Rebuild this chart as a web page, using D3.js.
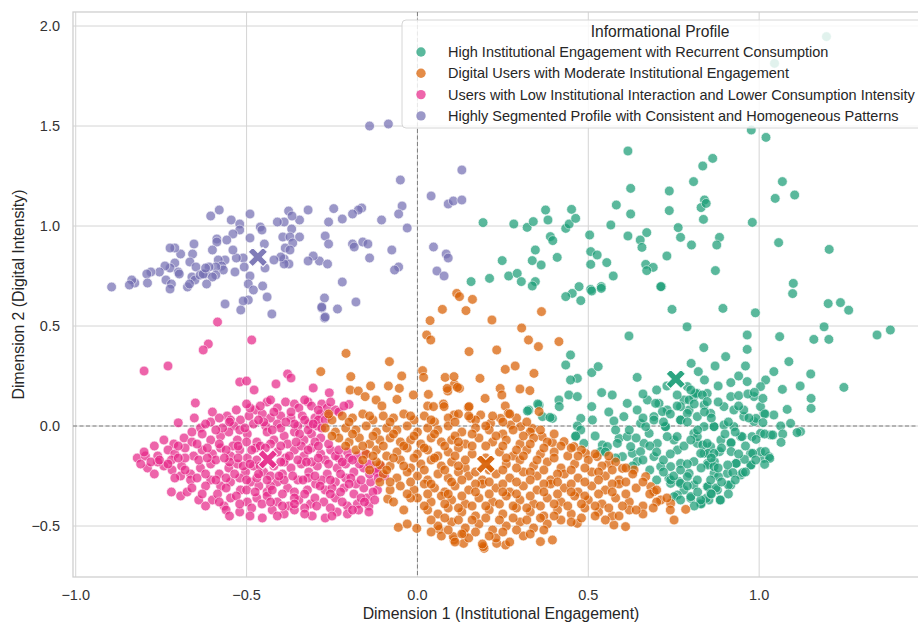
<!DOCTYPE html>
<html>
<head>
<meta charset="utf-8">
<script src="https://cdn.jsdelivr.net/npm/d3@7"></script>
<style>
  body { margin: 0; background: #fff; }
  svg { display: block; font-family: "Liberation Sans", Arial, sans-serif; }
</style>
</head>
<body>
<div id="chart"></div>
<script>
// profile names, in legend order
const profiles = [
  "High Institutional Engagement with Recurrent Consumption",
  "Digital Users with Moderate Institutional Engagement",
  "Users with Low Institutional Interaction and Lower Consumption Intensity",
  "Highly Segmented Profile with Consistent and Homogeneous Patterns"
];
const colors = ["#1b9e77", "#d95f02", "#e7298a", "#7570b3"];

const xTicks = [-1.0, -0.5, 0.0, 0.5, 1.0];
const yTicks = [-0.5, 0.0, 0.5, 1.0, 1.5, 2.0];

// cluster centroids [dim1, dim2]
const centroids = [[0.756, 0.235], [0.20, -0.19], [-0.438, -0.167], [-0.467, 0.845]];

// points, [dim1, dim2]
const greenPts = [
  [1.197,1.947],[1.045,1.813],[0.977,1.48],[1.02,1.443],[0.616,1.375],[0.864,1.338],[0.835,1.30],[0.808,1.222],
  [0.737,1.175],[0.624,1.188],[1.068,1.222],[1.047,1.138],[1.104,1.155],[0.582,1.105],[0.624,1.06],[0.737,1.077],
  [0.84,1.13],[0.83,1.092],[0.845,1.113],[0.837,1.033],[0.98,1.018],[0.566,1.005],[0.504,0.955],[0.616,0.95],
  [0.652,0.93],[0.671,0.967],[0.657,0.893],[0.763,0.992],[0.77,0.943],[0.802,0.905],[0.884,0.943],[0.876,0.905],
  [1.057,0.917],[1.205,0.883],[0.507,0.872],[0.526,0.855],[0.507,0.808],[0.554,0.817],[0.573,0.75],[0.73,0.85],
  [0.668,0.808],[0.69,0.793],[0.671,0.777],[0.872,0.777],[1.10,0.713],[0.714,0.697],
  [0.192,1.017],[0.282,1.01],[0.321,0.993],[0.339,1.022],[0.382,1.03],[0.375,1.08],[0.434,0.988],[0.444,1.01],
  [0.451,1.083],[0.463,1.038],[0.389,0.947],[0.396,0.927],[0.345,0.88],[0.409,0.843],[0.248,0.827],[0.336,0.827],
  [0.362,0.805],[0.157,0.722],[0.211,0.738],[0.267,0.75],[0.292,0.763],[0.304,0.722],[0.345,0.722],[0.336,0.70],
  [0.473,0.697],[0.507,0.683],[0.538,0.697],
  [1.098,0.662],[1.202,0.612],[1.238,0.617],[1.262,0.579],[1.384,0.48],[1.345,0.455],[1.19,0.496],[0.989,0.566],
  [0.894,0.588],[0.745,0.583],[0.789,0.496],[0.453,0.663],[0.434,0.647],[0.478,0.627],[0.51,0.675],[0.538,0.688],[0.712,0.697],
  [0.619,0.45],[0.965,0.455],[0.965,0.383],[1.06,0.447],[1.16,0.433],[1.204,0.433],[0.838,0.392],[0.902,0.347],
  [0.871,0.30],[0.801,0.313],[0.822,0.272],[0.448,0.355],[0.434,0.305],[0.468,0.238],[0.448,0.23],[0.51,0.267],
  [0.529,0.297],[0.643,0.243],[0.96,0.30],[0.917,0.217],[0.965,0.222],[1.019,0.23],[1.043,0.272],[1.087,0.322],
  [1.151,0.26],[1.12,0.20],[1.068,0.183],[1.248,0.193],[1.152,0.138],[1.152,0.088],[1.082,0.083],[1.014,0.063],
  [1.043,0.055],[1.092,0.013],[1.063,0.0],[1.121,-0.028],[1.111,-0.033],
  [0.326,0.08],[0.356,0.105],[0.395,0.038],[0.414,0.13],[0.443,0.155],[0.468,0.147],[0.478,0.038],[0.468,0.0],
  [0.51,0.097],[0.539,0.167],[0.57,0.155],[0.575,0.025],[0.604,0.047],[0.614,0.113],[0.463,-0.053],[0.487,-0.087],
  [0.541,-0.095],[0.59,-0.062],[0.536,-0.128],[0.352,0.11],[0.322,0.075],[0.366,0.047],[0.388,0.043],[0.415,0.097],
  [0.478,-0.02],[0.463,-0.05],[0.512,0.03],
  [0.629,-0.137],[0.643,-0.178],[0.663,-0.087],[0.678,-0.037],[0.653,0.013],[0.692,0.047],[0.707,0.113],[0.731,0.08],
  [0.726,-0.003],[0.751,-0.07],[0.761,-0.12],[0.77,-0.187],[0.741,-0.203],[0.736,-0.262],[0.765,-0.278],[0.78,-0.32],
  [0.80,-0.362],[0.829,-0.387],[0.853,-0.37],[0.887,-0.37],[0.878,-0.32],[0.917,-0.295],[0.946,-0.245],[0.975,-0.195],
  [1.014,-0.162],[1.029,-0.153],[1.004,-0.128],[0.975,-0.137],[0.932,-0.187],[0.907,-0.237],[0.868,-0.237],[0.849,-0.187],
  [0.839,-0.137],[0.819,-0.087],[0.809,-0.037],[0.839,-0.003],[0.868,-0.003],[0.897,0.005],[0.926,-0.003],[0.946,-0.053],
  [0.917,-0.087],[0.888,-0.07],[0.858,-0.103],[0.795,0.08],[0.819,0.047],[0.839,0.105],[0.848,0.163],[0.809,0.147],
  [0.78,0.13],[0.76,0.155],[0.79,0.197],[0.819,0.163],[0.77,0.03],[0.702,-0.087],[0.692,-0.153],[0.712,-0.203],
  [0.653,-0.128],[0.624,-0.103],[0.614,-0.053],[0.585,-0.087],[0.556,-0.103],[0.60,-0.153],[0.795,-0.237],[0.809,-0.295],
  [0.848,-0.303],[0.741,-0.287],[0.761,-0.345],[0.979,-0.053],[1.004,-0.037],[1.034,-0.045],[0.985,0.022],[0.955,0.047],
  [0.926,0.08],[0.897,0.097],[0.917,0.147],[0.985,0.147],[1.004,0.097],[1.004,0.197],
  [0.94,0.152],[0.967,0.16],[0.986,0.168],[1.011,0.138],[0.955,0.08],[0.991,0.038],[1.017,0.06],[1.011,0.017],
  [0.991,-0.067],[1.016,-0.04],[1.04,-0.045],[1.069,-0.04],[1.064,-0.082],[1.018,-0.128],[1.031,-0.162],[1.016,-0.192],
  [0.981,-0.137],[0.976,-0.195],[0.95,-0.053],[0.918,-0.083],[0.918,-0.128],[0.884,-0.128],[0.869,-0.178],[0.85,-0.195],
  [0.85,-0.137],[0.835,-0.095],[0.957,-0.167],[0.933,-0.187],[0.908,-0.195],[0.952,-0.233],[0.923,-0.233],[0.881,-0.253],
  [0.85,-0.303],[0.874,-0.31],[0.91,-0.295],[0.886,-0.37],[0.845,-0.362],[0.83,-0.39],
  [0.643,0.08],[0.673,0.13],[0.697,0.113],[0.717,0.072],[0.692,0.03],[0.726,-0.003],[0.668,-0.003],[0.731,-0.053],
  [0.76,-0.053],[0.77,0.03],[0.79,0.063],[0.77,0.097],[0.795,0.13],[0.814,0.163],[0.80,0.18],[0.834,0.155],
  [0.848,0.122],[0.858,0.063],[0.868,-0.003],[0.819,-0.053],[0.848,-0.087],[0.868,-0.137],[0.829,-0.137],[0.809,-0.178],
  [0.741,-0.27],[0.77,-0.287],[0.79,-0.253],[0.819,-0.27],[0.751,-0.353],[0.80,-0.353],[0.829,-0.37],[0.858,-0.337],
  [0.858,-0.27],[0.868,-0.203],
  [0.62,-0.02],[0.64,-0.06],[0.66,0.04],[0.68,-0.10],[0.70,-0.13],[0.72,-0.17],[0.74,-0.14],[0.72,-0.23],
  [0.75,-0.25],[0.77,-0.22],[0.79,-0.19],[0.78,-0.10],[0.80,-0.07],[0.82,-0.02],[0.83,-0.21],[0.86,-0.16],
  [0.88,-0.21],[0.89,-0.11],[0.90,-0.04],[0.93,-0.03],[0.94,-0.14],[0.96,-0.10],[0.89,-0.28],[0.86,-0.34],
  [0.82,-0.33],[0.79,-0.30],[0.77,-0.37],[0.81,-0.40],[0.91,-0.34],[0.93,-0.27],[0.96,-0.23],[0.99,-0.17],
  [0.72,0.02],[0.74,0.06],[0.76,0.10],[0.79,0.02],[0.81,0.11],[0.84,0.07],[0.86,0.04],[0.88,0.12],
  [0.91,0.02],[0.94,0.10],[0.97,0.04],[0.58,-0.02],[0.56,0.07],[0.52,-0.05],[0.55,-0.13],[0.58,-0.16],
  [0.63,-0.20],[0.66,-0.17],[0.68,-0.22],[0.70,-0.27],[0.66,0.16],[0.70,0.18],[0.73,0.20],[0.84,0.23],
  [0.88,0.20],[0.94,0.25]
];

const orangePts = [
  [0.115,0.663],[0.123,0.647],[0.161,0.633],[0.073,0.583],[0.142,0.577],[0.037,0.527],[0.218,0.53],[0.305,0.49],
  [0.325,0.43],[0.027,0.455],[0.039,0.43],[0.151,0.372],[0.232,0.38],[-0.209,0.363],[-0.082,0.322],[0.257,0.283],
  [0.286,0.30],[-0.283,0.272],[-0.195,0.247],[0.015,0.277],[0.018,0.243],[0.081,0.243],[0.183,0.238],[-0.046,0.25],
  [-0.137,0.20],[-0.085,0.20],[-0.053,0.188],[-0.197,0.18],[-0.173,0.175],[-0.153,0.147],[0.108,0.208],[0.123,0.188],
  [0.30,0.185],[0.242,0.188],[0.247,0.155],[0.032,0.158],[0.089,0.175],[0.198,0.138],[-0.012,0.155],[-0.121,0.13],
  [-0.104,0.10],[-0.06,0.133],[0.03,0.10],[0.047,0.097],[0.076,0.11],[0.149,0.093],[0.257,0.10],[0.266,0.063],
  [0.363,0.572],[0.354,0.397],[0.414,0.422],[0.341,0.263],[0.107,0.247],[0.087,0.188],[0.117,0.193],[0.329,0.177],
  [0.151,0.097],[0.356,0.072],[0.078,0.097],[0.107,0.055],[0.156,0.038],[0.185,0.055],[0.214,0.013],[0.243,0.038],
  [0.273,0.005],[0.302,-0.003],[0.336,-0.012],[0.365,-0.053],[0.395,-0.083],[0.429,-0.078],[0.458,-0.103],[0.492,-0.137],
  [0.526,-0.153],[0.56,-0.187],[0.60,-0.212],[0.634,-0.22],[0.668,-0.253],[0.683,-0.303],[0.692,-0.328],[0.712,-0.37],
  [0.741,-0.387],[0.751,-0.47],[0.785,-0.417],[0.609,-0.503],[0.575,-0.495],[0.468,-0.487],[0.395,-0.57],[0.36,-0.578],
  [0.258,-0.595],[0.195,-0.612],[0.136,-0.537],[0.107,-0.57],[-0.056,-0.507],[-0.002,-0.512],[0.064,-0.517],[0.105,-0.553],
  [0.135,-0.587],[0.193,-0.603],[0.232,-0.587],[-0.087,-0.365],[-0.109,-0.195],
  [-0.25,0.03],[-0.22,0.05],[-0.19,0.04],[-0.16,0.06],[-0.13,0.03],[-0.10,0.05],[-0.07,0.04],[-0.04,0.06],[-0.01,0.03],
  [0.02,0.05],[0.05,0.02],[0.09,0.04],[0.12,0.06],[0.17,0.03],[0.22,0.05],[0.25,0.02],[0.29,0.04],[0.32,0.02],
  [-0.27,-0.01],[-0.24,-0.03],[-0.21,-0.01],[-0.18,-0.02],[-0.15,0.0],[-0.12,-0.03],[-0.09,-0.01],[-0.06,-0.02],
  [-0.03,0.0],[0.0,-0.03],[0.03,-0.01],[0.06,-0.02],[0.09,0.0],[0.13,-0.03],[0.17,-0.01],[0.21,-0.02],[0.25,-0.04],
  [0.28,-0.02],[0.33,-0.03],[0.36,-0.02],
  [-0.23,-0.06],[-0.20,-0.08],[-0.17,-0.06],[-0.14,-0.09],[-0.11,-0.07],[-0.08,-0.06],[-0.05,-0.08],[-0.02,-0.07],
  [0.01,-0.09],[0.04,-0.06],[0.07,-0.08],[0.10,-0.07],[0.14,-0.09],[0.18,-0.06],[0.22,-0.08],[0.26,-0.07],[0.30,-0.09],
  [0.34,-0.06],[0.38,-0.08],[0.42,-0.10],
  [-0.18,-0.12],[-0.15,-0.14],[-0.12,-0.12],[-0.09,-0.15],[-0.06,-0.13],[-0.03,-0.11],[0.0,-0.14],[0.03,-0.12],
  [0.06,-0.15],[0.09,-0.13],[0.12,-0.11],[0.16,-0.14],[0.20,-0.16],[0.24,-0.13],[0.28,-0.15],[0.32,-0.12],[0.36,-0.14],
  [0.40,-0.13],[0.44,-0.15],[0.48,-0.12],
  [-0.12,-0.18],[-0.08,-0.20],[-0.05,-0.17],[-0.02,-0.21],[0.01,-0.19],[0.04,-0.17],[0.07,-0.20],[0.10,-0.18],
  [0.14,-0.21],[0.21,-0.22],[0.26,-0.19],[0.30,-0.17],[0.34,-0.20],[0.38,-0.18],[0.42,-0.21],[0.46,-0.19],[0.50,-0.17],
  [0.54,-0.20],[0.58,-0.18],
  [-0.10,-0.24],[-0.06,-0.26],[-0.03,-0.23],[0.0,-0.25],[0.03,-0.27],[0.06,-0.24],[0.09,-0.26],[0.12,-0.23],
  [0.15,-0.25],[0.19,-0.27],[0.23,-0.24],[0.27,-0.26],[0.31,-0.23],[0.35,-0.25],[0.39,-0.27],[0.43,-0.24],[0.47,-0.26],
  [0.51,-0.23],[0.55,-0.25],[0.59,-0.27],[0.63,-0.24],
  [-0.05,-0.30],[-0.01,-0.32],[0.02,-0.29],[0.05,-0.31],[0.08,-0.33],[0.11,-0.30],[0.15,-0.32],[0.19,-0.29],
  [0.23,-0.31],[0.27,-0.33],[0.31,-0.30],[0.35,-0.32],[0.39,-0.29],[0.43,-0.31],[0.47,-0.33],[0.51,-0.30],[0.55,-0.32],
  [0.59,-0.29],[0.64,-0.31],[0.68,-0.34],
  [0.0,-0.36],[0.04,-0.38],[0.07,-0.35],[0.10,-0.37],[0.14,-0.39],[0.18,-0.36],[0.22,-0.38],[0.26,-0.35],[0.30,-0.37],
  [0.34,-0.39],[0.38,-0.36],[0.42,-0.38],[0.46,-0.35],[0.50,-0.37],[0.54,-0.39],[0.58,-0.36],[0.62,-0.38],[0.66,-0.40],
  [0.03,-0.42],[0.06,-0.44],[0.09,-0.41],[0.13,-0.43],[0.17,-0.45],[0.21,-0.42],[0.25,-0.44],[0.29,-0.41],[0.33,-0.43],
  [0.37,-0.45],[0.41,-0.42],[0.45,-0.44],[0.49,-0.41],[0.53,-0.43],[0.57,-0.45],[0.62,-0.42],[0.66,-0.44],
  [-0.03,-0.49],[0.06,-0.50],[0.10,-0.48],[0.14,-0.51],[0.18,-0.49],[0.22,-0.52],[0.26,-0.50],[0.30,-0.48],[0.34,-0.51],
  [0.38,-0.49],[0.42,-0.47],[0.48,-0.46],[0.55,-0.47],
  [0.07,-0.55],[0.11,-0.58],[0.15,-0.56],[0.19,-0.59],[0.23,-0.56],[0.27,-0.58],[0.31,-0.55],
  [-0.16,-0.17],[-0.14,-0.22],[-0.11,-0.28],[-0.08,-0.32],[-0.07,-0.38],[-0.04,-0.42],[-0.02,-0.36],
  [-0.26,0.06],[-0.20,0.02],[-0.14,0.05],[-0.08,0.02],[-0.02,0.05],[0.04,0.03],[0.11,0.02],[0.15,0.05],[0.20,0.0],[0.27,0.06],
  [-0.25,-0.05],[-0.19,-0.04],[-0.13,-0.05],[-0.07,-0.04],[-0.01,-0.05],[0.05,-0.04],[0.11,-0.05],[0.16,-0.04],
  [0.23,-0.05],[0.31,-0.05],[0.40,-0.04],
  [-0.21,-0.10],[-0.16,-0.10],[-0.10,-0.10],[-0.04,-0.10],[0.02,-0.11],[0.08,-0.10],[0.12,-0.08],[0.16,-0.10],
  [0.20,-0.10],[0.25,-0.10],[0.29,-0.12],[0.33,-0.09],[0.37,-0.11],[0.45,-0.11],
  [-0.13,-0.15],[-0.07,-0.16],[-0.01,-0.16],[0.05,-0.16],[0.11,-0.15],[0.14,-0.17],[0.26,-0.16],[0.31,-0.15],
  [0.35,-0.17],[0.40,-0.16],[0.47,-0.15],[0.52,-0.14],[0.56,-0.15],
  [-0.09,-0.22],[-0.04,-0.20],[0.02,-0.22],[0.08,-0.22],[0.12,-0.20],[0.17,-0.23],[0.25,-0.22],[0.29,-0.21],
  [0.33,-0.23],[0.37,-0.22],[0.41,-0.24],[0.45,-0.22],[0.49,-0.21],[0.53,-0.23],[0.57,-0.22],[0.61,-0.21],
  [-0.08,-0.28],[-0.02,-0.28],[0.04,-0.29],[0.10,-0.28],[0.13,-0.27],[0.17,-0.29],[0.21,-0.28],[0.25,-0.29],
  [0.29,-0.28],[0.33,-0.27],[0.37,-0.29],[0.41,-0.28],[0.45,-0.29],[0.49,-0.28],[0.53,-0.27],[0.57,-0.29],
  [0.61,-0.28],[0.66,-0.28],
  [-0.03,-0.34],[0.03,-0.34],[0.09,-0.34],[0.13,-0.35],[0.17,-0.33],[0.21,-0.34],[0.25,-0.33],[0.29,-0.34],
  [0.33,-0.35],[0.37,-0.33],[0.41,-0.34],[0.45,-0.33],[0.49,-0.35],[0.53,-0.34],[0.57,-0.33],[0.61,-0.34],[0.70,-0.38],
  [0.02,-0.40],[0.08,-0.39],[0.12,-0.41],[0.16,-0.40],[0.20,-0.40],[0.24,-0.39],[0.28,-0.40],[0.32,-0.41],
  [0.36,-0.40],[0.40,-0.39],[0.44,-0.40],[0.48,-0.39],[0.52,-0.40],[0.56,-0.41],[0.60,-0.40],[0.64,-0.42],
  [0.04,-0.47],[0.08,-0.46],[0.12,-0.47],[0.16,-0.47],[0.20,-0.46],[0.24,-0.47],[0.28,-0.46],[0.32,-0.47],
  [0.36,-0.46],[0.40,-0.45],[0.45,-0.48],[0.52,-0.45],[0.59,-0.45],
  [0.04,-0.53],[0.09,-0.52],[0.13,-0.54],[0.17,-0.53],[0.21,-0.55],[0.25,-0.53],[0.29,-0.52],[0.33,-0.54],[0.37,-0.52],
  [0.70,-0.32],[0.73,-0.36],[0.74,-0.42],[0.69,-0.41]
];

const pinkPts = [
  [-0.585,0.52],[-0.612,0.41],[-0.627,0.38],[-0.485,0.43],[-0.80,0.275],[-0.73,0.30],[-0.38,0.26],[-0.37,0.24],
  [-0.52,0.22],[-0.50,0.225],[-0.478,0.18],[-0.414,0.21],[-0.305,0.19],[-0.258,0.166],[-0.65,0.115],[-0.653,0.04],
  [-0.70,0.016],[-0.20,0.108],
  [-0.474,0.08],[-0.44,0.12],[-0.41,0.09],[-0.386,0.12],[-0.36,0.11],[-0.347,0.09],[-0.32,0.12],[-0.31,0.10],
  [-0.28,0.11],[-0.264,0.09],[-0.24,0.08],[-0.254,0.12],[-0.23,0.07],[-0.60,0.07],[-0.557,0.05],
  [-0.605,0.02],[-0.58,0.04],[-0.547,0.03],[-0.518,0.03],[-0.493,0.05],[-0.454,0.06],[-0.43,0.04],[-0.40,0.05],
  [-0.37,0.04],[-0.337,0.05],[-0.30,0.04],[-0.283,0.06],[-0.635,-0.01],[-0.537,0.0],[-0.48,0.01],[-0.444,0.0],
  [-0.41,0.01],[-0.35,0.0],[-0.318,0.01],[-0.293,0.0],
  [-0.742,-0.07],[-0.713,-0.09],[-0.683,-0.06],[-0.66,-0.08],[-0.63,-0.04],[-0.605,-0.07],[-0.576,-0.05],[-0.552,-0.03],
  [-0.527,-0.07],[-0.498,-0.04],[-0.47,-0.08],[-0.44,-0.03],[-0.42,-0.07],[-0.39,-0.05],[-0.36,-0.03],[-0.332,-0.07],
  [-0.31,-0.04],[-0.283,-0.06],
  [-0.82,-0.16],[-0.796,-0.15],[-0.76,-0.15],[-0.73,-0.12],[-0.71,-0.14],[-0.68,-0.11],[-0.655,-0.15],[-0.63,-0.12],
  [-0.60,-0.14],[-0.576,-0.11],[-0.547,-0.15],[-0.52,-0.12],[-0.498,-0.16],[-0.474,-0.11],[-0.41,-0.13],[-0.386,-0.16],
  [-0.36,-0.12],[-0.332,-0.15],[-0.31,-0.11],[-0.283,-0.14],[-0.254,-0.12],[-0.23,-0.16],[-0.205,-0.13],[-0.176,-0.15],
  [-0.152,-0.14],
  [-0.79,-0.21],[-0.742,-0.20],[-0.718,-0.22],[-0.69,-0.20],[-0.664,-0.24],[-0.635,-0.21],[-0.605,-0.19],[-0.58,-0.24],
  [-0.552,-0.21],[-0.527,-0.19],[-0.503,-0.23],[-0.48,-0.20],[-0.45,-0.23],[-0.42,-0.20],[-0.395,-0.24],[-0.37,-0.21],
  [-0.34,-0.19],[-0.318,-0.23],[-0.293,-0.20],[-0.264,-0.24],[-0.235,-0.21],[-0.21,-0.19],[-0.186,-0.23],[-0.157,-0.21],
  [-0.108,-0.20],
  [-0.693,-0.25],[-0.664,-0.27],[-0.605,-0.27],[-0.576,-0.30],[-0.547,-0.28],[-0.518,-0.32],[-0.488,-0.28],[-0.464,-0.30],
  [-0.44,-0.33],[-0.41,-0.28],[-0.38,-0.31],[-0.35,-0.27],[-0.322,-0.32],[-0.298,-0.29],[-0.27,-0.32],[-0.24,-0.28],
  [-0.215,-0.31],[-0.186,-0.34],[-0.157,-0.31],[-0.137,-0.28],[-0.096,-0.25],[-0.117,-0.32],[-0.147,-0.36],
  [-0.693,-0.35],[-0.674,-0.33],[-0.64,-0.37],[-0.60,-0.37],[-0.566,-0.40],[-0.547,-0.36],[-0.498,-0.38],[-0.47,-0.36],
  [-0.44,-0.35],[-0.41,-0.38],[-0.376,-0.40],[-0.347,-0.37],[-0.313,-0.39],[-0.274,-0.38],[-0.24,-0.36],[-0.205,-0.40],
  [-0.176,-0.39],[-0.142,-0.40],
  [-0.56,-0.42],[-0.55,-0.45],[-0.52,-0.43],[-0.454,-0.46],[-0.425,-0.42],[-0.39,-0.44],[-0.36,-0.42],[-0.308,-0.45],
  [-0.27,-0.46],[-0.235,-0.43],[-0.205,-0.44],[-0.172,-0.42],[-0.142,-0.43],
  [-0.58,-0.09],[-0.54,-0.10],[-0.50,-0.08],[-0.46,-0.10],[-0.43,-0.09],[-0.38,-0.09],[-0.34,-0.10],[-0.30,-0.08],
  [-0.26,-0.09],[-0.64,-0.17],[-0.59,-0.17],[-0.55,-0.18],[-0.51,-0.20],[-0.47,-0.17],[-0.43,-0.25],
  [-0.39,-0.18],[-0.35,-0.17],[-0.31,-0.18],[-0.27,-0.17],[-0.24,-0.15],[-0.20,-0.16],[-0.17,-0.19],[-0.62,-0.30],
  [-0.56,-0.26],[-0.52,-0.26],[-0.47,-0.26],[-0.43,-0.30],[-0.39,-0.27],[-0.36,-0.33],[-0.32,-0.26],[-0.28,-0.27],
  [-0.25,-0.31],[-0.21,-0.26],[-0.18,-0.29],[-0.14,-0.24],[-0.12,-0.21],[-0.53,0.08],[-0.49,0.09],
  [-0.42,0.07],[-0.37,0.07],[-0.33,0.03],[-0.29,0.03],[-0.26,0.05],[-0.45,0.02],[-0.40,-0.01],[-0.36,0.01],
  [-0.32,-0.02],[-0.28,-0.01],[-0.57,-0.01],[-0.52,-0.02],[-0.66,-0.03],[-0.68,-0.16],[-0.72,-0.17],
  [-0.76,-0.18],[-0.80,-0.13],[-0.78,-0.18],
  [-0.50,0.11],[-0.46,0.10],[-0.43,0.13],[-0.33,0.13],[-0.29,0.08],[-0.215,0.10],
  [-0.62,0.01],[-0.59,-0.02],[-0.55,0.02],[-0.505,-0.01],[-0.465,0.03],[-0.425,-0.02],[-0.385,0.02],[-0.345,-0.04],
  [-0.305,0.01],[-0.27,0.03],
  [-0.77,-0.10],[-0.70,-0.10],[-0.645,-0.09],[-0.615,-0.11],[-0.56,-0.12],[-0.525,-0.10],[-0.485,-0.12],[-0.445,-0.11],
  [-0.40,-0.10],[-0.355,-0.08],[-0.32,-0.12],[-0.29,-0.10],[-0.23,-0.12],
  [-0.81,-0.19],[-0.755,-0.17],[-0.73,-0.19],[-0.70,-0.16],[-0.615,-0.16],[-0.565,-0.16],[-0.525,-0.16],[-0.49,-0.19],
  [-0.46,-0.20],[-0.40,-0.18],[-0.375,-0.15],[-0.325,-0.18],[-0.29,-0.16],[-0.26,-0.19],[-0.22,-0.18],[-0.19,-0.17],
  [-0.14,-0.19],[-0.12,-0.23],
  [-0.77,-0.24],[-0.71,-0.26],[-0.68,-0.22],[-0.645,-0.26],[-0.62,-0.24],[-0.59,-0.27],[-0.535,-0.24],[-0.50,-0.27],
  [-0.465,-0.24],[-0.44,-0.27],[-0.405,-0.25],[-0.365,-0.25],[-0.335,-0.27],[-0.30,-0.25],[-0.255,-0.27],[-0.225,-0.24],
  [-0.195,-0.26],[-0.165,-0.27],[-0.115,-0.26],
  [-0.72,-0.33],[-0.66,-0.31],[-0.63,-0.34],[-0.585,-0.34],[-0.56,-0.31],[-0.53,-0.35],[-0.50,-0.32],[-0.475,-0.33],
  [-0.425,-0.32],[-0.395,-0.34],[-0.36,-0.36],[-0.33,-0.34],[-0.30,-0.36],[-0.285,-0.30],[-0.255,-0.34],[-0.225,-0.33],
  [-0.20,-0.29],[-0.165,-0.36],[-0.13,-0.33],
  [-0.62,-0.40],[-0.58,-0.38],[-0.52,-0.39],[-0.485,-0.41],[-0.455,-0.39],[-0.43,-0.38],[-0.395,-0.40],[-0.36,-0.39],
  [-0.33,-0.41],[-0.295,-0.40],[-0.255,-0.41],[-0.22,-0.38],[-0.19,-0.42],[-0.155,-0.38],[-0.125,-0.37],
  [-0.49,-0.45],[-0.41,-0.45],[-0.33,-0.44],[-0.25,-0.45]
];

const purplePts = [
  [-0.14,1.50],[-0.085,1.51],[0.13,1.28],[-0.05,1.23],[0.04,1.15],[0.09,1.11],[0.105,1.125],[0.13,1.13],
  [-0.045,1.10],[-0.055,1.06],[-0.03,0.99],[-0.105,1.03],[-0.163,1.09],[-0.173,1.08],[-0.19,1.06],[-0.22,1.035],
  [-0.245,1.087],[-0.26,1.02],[-0.32,1.08],[-0.345,1.03],[-0.377,1.075],[-0.367,1.05],[-0.39,1.02],[-0.41,1.02],
  [-0.49,1.06],[-0.58,1.08],[-0.605,1.05],[-0.545,1.03],[-0.52,1.01],[-0.52,0.98],[-0.54,0.96],[-0.46,0.995],
  [-0.455,0.98],[-0.49,0.94],[-0.368,0.985],[-0.394,0.945],[-0.373,0.945],[-0.345,0.945],[-0.365,0.915],[-0.387,0.89],
  [-0.373,0.88],[-0.27,0.95],[-0.26,0.91],[-0.287,0.825],[-0.263,0.81],[-0.305,0.85],[-0.32,0.825],[-0.19,0.91],
  [-0.185,0.895],[-0.16,0.92],[-0.145,0.91],[-0.14,0.84],[-0.075,0.88],[-0.055,0.795],[-0.067,0.78],[-0.22,0.72],
  [-0.272,0.64],[-0.28,0.59],[-0.234,0.585],[-0.272,0.54],[-0.18,0.62],[-0.39,0.835],[-0.376,0.81],[-0.39,0.81],
  [-0.40,0.845],[-0.42,0.83],[-0.448,0.91],[-0.446,0.79],[-0.49,0.75],[-0.495,0.71],[-0.48,0.68],[-0.453,0.70],
  [-0.44,0.645],[-0.426,0.56],[-0.495,0.63],[-0.51,0.625],[-0.517,0.58],[-0.563,0.61],[-0.51,0.84],[-0.53,0.84],
  [-0.534,0.77],[-0.507,0.795],[-0.54,0.88],[-0.558,0.93],[-0.587,0.935],[-0.587,0.92],[-0.563,0.83],[-0.583,0.83],
  [-0.573,0.80],[-0.568,0.78],[-0.59,0.795],[-0.59,0.755],[-0.60,0.88],[-0.61,0.795],[-0.62,0.76],[-0.60,0.745],
  [-0.617,0.71],[-0.654,0.91],[-0.658,0.86],[-0.666,0.82],[-0.648,0.795],[-0.66,0.745],[-0.651,0.73],[-0.673,0.695],
  [-0.667,0.71],[-0.636,0.755],[-0.627,0.76],[-0.62,0.79],[-0.693,0.86],[-0.71,0.89],[-0.724,0.89],[-0.71,0.815],
  [-0.724,0.79],[-0.70,0.77],[-0.697,0.76],[-0.739,0.80],[-0.755,0.77],[-0.78,0.77],[-0.792,0.76],[-0.736,0.73],
  [-0.72,0.71],[-0.724,0.685],[-0.79,0.715],[-0.827,0.715],[-0.836,0.73],[-0.843,0.705],[-0.895,0.695],
  [0.047,0.895],[0.084,0.86],[0.09,0.84],[0.057,0.775],[0.078,0.75],[-0.28,0.595],[-0.27,0.545]
];

// drawing order: pink under orange where the two clusters meet
const series = [greenPts, pinkPts, orangePts, purplePts];
const seriesColor = [colors[0], colors[2], colors[1], colors[3]];

const W = 918, H = 623;
const plot = { left: 73, top: 12, right: 930, bottom: 577 };

const svg = d3.select("#chart").append("svg")
  .attr("width", W)
  .attr("height", H);

const x = d3.scaleLinear().domain([-1.008, 1.50]).range([plot.left, plot.right]);
const y = d3.scaleLinear().domain([-0.755, 2.07]).range([plot.bottom, plot.top]);

svg.append("clipPath").attr("id", "clip")
  .append("rect")
  .attr("x", plot.left).attr("y", plot.top)
  .attr("width", plot.right - plot.left).attr("height", plot.bottom - plot.top);

// grid
const grid = svg.append("g").attr("stroke", "#d4d4d4").attr("stroke-width", 1);
grid.selectAll(".gx").data(xTicks).join("line")
  .attr("x1", d => x(d)).attr("x2", d => x(d))
  .attr("y1", plot.top).attr("y2", plot.bottom);
grid.selectAll(".gy").data(yTicks).join("line")
  .attr("x1", plot.left).attr("x2", plot.right)
  .attr("y1", d => y(d)).attr("y2", d => y(d));

// spines
svg.append("rect")
  .attr("x", plot.left).attr("y", plot.top)
  .attr("width", plot.right - plot.left).attr("height", plot.bottom - plot.top)
  .attr("fill", "none").attr("stroke", "#cfcfcf").attr("stroke-width", 1.3);

// zero reference lines
const ref = svg.append("g")
  .attr("stroke", "#7f7f7f").attr("stroke-width", 1).attr("stroke-dasharray", "4,2.5");
ref.append("line")
  .attr("x1", x(0)).attr("x2", x(0)).attr("y1", plot.top).attr("y2", plot.bottom);
ref.append("line")
  .attr("x1", plot.left).attr("x2", plot.right).attr("y1", y(0)).attr("y2", y(0));

// points
const pts = svg.append("g").attr("clip-path", "url(#clip)");
series.forEach((arr, i) => {
  pts.append("g").selectAll("circle")
    .data(arr)
    .join("circle")
    .attr("cx", d => x(d[0]))
    .attr("cy", d => y(d[1]))
    .attr("r", 4.9)
    .attr("fill", seriesColor[i])
    .attr("stroke", "#fff")
    .attr("stroke-width", 0.7)
    .attr("opacity", 0.72);
});

// centroid markers (filled X)
const a = 10.5, b = 3.2;
const xShape = d3.line()([[-b,-a],[b,-a],[b,-b],[a,-b],[a,b],[b,b],[b,a],[-b,a],[-b,b],[-a,b],[-a,-b],[-b,-b]]) + "Z";
svg.append("g").selectAll("path")
  .data(centroids)
  .join("path")
  .attr("d", xShape)
  .attr("transform", d => `translate(${x(d[0])},${y(d[1])}) rotate(45)`)
  .attr("fill", (d, i) => colors[i])
  .attr("stroke", "#fff")
  .attr("stroke-width", 1)
  .attr("opacity", 0.92);

// axes text
const tickColor = "#333";
svg.append("g").selectAll("text")
  .data(xTicks)
  .join("text")
  .attr("x", d => x(d))
  .attr("y", 600)
  .attr("text-anchor", "middle")
  .attr("font-size", 14.5)
  .attr("fill", tickColor)
  .text(d3.format(".1f"));

svg.append("g").selectAll("text")
  .data(yTicks)
  .join("text")
  .attr("x", 60)
  .attr("y", d => y(d))
  .attr("dy", "0.35em")
  .attr("text-anchor", "end")
  .attr("font-size", 14.5)
  .attr("fill", tickColor)
  .text(d3.format(".1f"));

svg.append("text")
  .attr("x", 501).attr("y", 619)
  .attr("text-anchor", "middle")
  .attr("font-size", 15.8)
  .attr("fill", "#262626")
  .text("Dimension 1 (Institutional Engagement)");

svg.append("text")
  .attr("transform", `translate(24,${(plot.top + plot.bottom) / 2}) rotate(-90)`)
  .attr("text-anchor", "middle")
  .attr("font-size", 15.8)
  .attr("fill", "#262626")
  .text("Dimension 2 (Digital Intensity)");

// legend
const lg = svg.append("g");
lg.append("rect")
  .attr("x", 402).attr("y", 20)
  .attr("width", 530).attr("height", 108)
  .attr("rx", 4)
  .attr("fill", "#fff").attr("fill-opacity", 0.82)
  .attr("stroke", "#d6d6d6");
lg.append("text")
  .attr("x", 660).attr("y", 37)
  .attr("text-anchor", "middle")
  .attr("font-size", 15.6)
  .attr("fill", "#262626")
  .text("Informational Profile");
const rows = lg.selectAll(".row")
  .data(profiles)
  .join("g")
  .attr("transform", (d, i) => `translate(0,${52 + i * 21.3})`);
rows.append("circle")
  .attr("cx", 421).attr("cy", 0).attr("r", 4.7)
  .attr("fill", (d, i) => colors[i])
  .attr("opacity", 0.72);
rows.append("text")
  .attr("x", 448).attr("y", 0).attr("dy", "0.35em")
  .attr("font-size", 14.5)
  .attr("fill", "#262626")
  .text(d => d);
</script>
</body>
</html>
